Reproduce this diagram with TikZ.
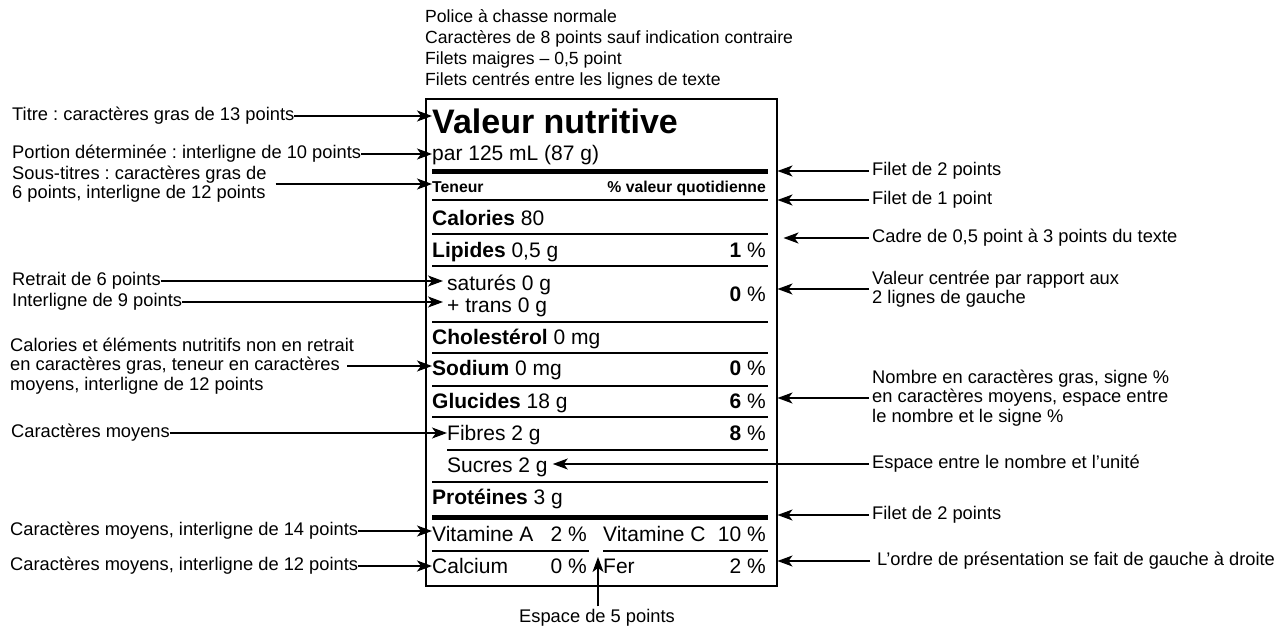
\documentclass[tikz,border=0pt]{standalone}
\usepackage{fontspec}
\setmainfont{Liberation Sans}
\usetikzlibrary{arrows.meta}
\frenchspacing

\begin{document}
\begin{tikzpicture}[x=1pt, y=-1pt, >={Stealth[length=15pt,width=11pt,inset=4pt]},
note/.style={font=\fontsize{18.3}{19.5}\selectfont, align=left, inner sep=0, anchor=west},
ligne/.style={font=\fontsize{21}{25}\selectfont, inner sep=0, anchor=base west},
valeur/.style={font=\fontsize{21}{25}\selectfont, inner sep=0, anchor=base east},
filet/.style={line width=1.2pt}, fleche/.style={->, line width=1.2pt}]
\useasboundingbox (0,0) rectangle (1280,626);

\node[note, font=\fontsize{17.6}{21}\selectfont] (consignes) at (425,49) {Police à chasse normale\\Caractères de 8 points sauf indication contraire\\Filets maigres – 0,5 point\\Filets centrés entre les lignes de texte};

% le tableau
\node[draw, line width=1.5pt, minimum width=351pt, minimum height=487pt, inner sep=0, anchor=north west] (cadre) at (425,98) {};
\node[ligne, font=\bfseries\fontsize{34}{40}\selectfont] (titre) at (432,133) {Valeur nutritive};
\node[ligne] (portion) at (432,160) {par 125 mL (87 g)};
\node[ligne, font=\bfseries\fontsize{15.75}{18}\selectfont] (teneur) at (432,192) {Teneur};
\node[valeur, font=\bfseries\fontsize{15.75}{18}\selectfont] (vq) at (766,192) {\% valeur quotidienne};
\node[ligne] (calories) at (432,225) {\textbf{Calories} 80};
\node[ligne] (lipides) at (432,257) {\textbf{Lipides} 0,5 g};
\node[valeur] (pLipides) at (766,257) {\textbf{1} \%};
\node[ligne] (satures) at (447,290) {saturés 0 g};
\node[ligne] (trans) at (447,312) {+ trans 0 g};
\node[valeur] (pSatures) at (766,301) {\textbf{0} \%};
\node[ligne] (cholesterol) at (432,344) {\textbf{Cholestérol} 0 mg};
\node[ligne] (sodium) at (432,375) {\textbf{Sodium} 0 mg};
\node[valeur] (pSodium) at (766,375) {\textbf{0} \%};
\node[ligne] (glucides) at (432,408) {\textbf{Glucides} 18 g};
\node[valeur] (pGlucides) at (766,408) {\textbf{6} \%};
\node[ligne] (fibres) at (447,440) {Fibres 2 g};
\node[valeur] (pFibres) at (766,440) {\textbf{8} \%};
\node[ligne] (sucres) at (447,472) {Sucres 2 g};
\node[ligne] (proteines) at (432,504) {\textbf{Protéines} 3 g};
\node[ligne] (vitA) at (432,541) {Vitamine A};
\node[valeur] (pVitA) at (587,541) {2 \%};
\node[ligne] (vitC) at (603,541) {Vitamine C};
\node[valeur] (pVitC) at (766,541) {10 \%};
\node[ligne] (calcium) at (432,573) {Calcium};
\node[valeur] (pCalcium) at (587,573) {0 \%};
\node[ligne] (fer) at (603,573) {Fer};
\node[valeur] (pFer) at (766,573) {2 \%};

\draw[line width=5pt] (432,171) -- (768,171);
\draw[line width=2.5pt] (432,200) -- (768,200);
\foreach \y in {234,266,322,353,386,417,482}
    \draw[filet] (432,\y) -- (768,\y);
\draw[filet] (447,450) -- (768,450);
\draw[line width=5pt] (432,517) -- (768,517);
\draw[filet] (432,551) -- (589,551) (603,551) -- (768,551);

% notes de gauche
\node[note] (nTitre) at (12,116) {Titre : caractères gras de 13 points};
\node[note] (nPortion) at (12,154) {Portion déterminée : interligne de 10 points};
\node[note] (nSous) at (12,184) {Sous-titres : caractères gras de\\6 points, interligne de 12 points};
\node[note] (nRetrait) at (12,281) {Retrait de 6 points};
\node[note] (nInterligne) at (12,302) {Interligne de 9 points};
\node[note] (nCalories) at (10,366) {Calories et éléments nutritifs non en retrait\\en caractères gras, teneur en caractères\\moyens, interligne de 12 points};
\node[note] (nMoyens) at (11,433) {Caractères moyens};
\node[note] (nVitamines) at (10,531) {Caractères moyens, interligne de 14 points};
\node[note] (nMineraux) at (10,566) {Caractères moyens, interligne de 12 points};

\draw[fleche] (nTitre.east) -- (nTitre.east -| titre.west);
\draw[fleche] (nPortion.east) -- (nPortion.east -| portion.west);
\draw[fleche] ([xshift=9pt]nSous.east) -- (nSous.east -| teneur.west);
\draw[fleche] (nRetrait.east) -- ([xshift=-4pt]nRetrait.east -| satures.west);
\draw[fleche] (nInterligne.east) -- ([xshift=-4pt]nInterligne.east -| trans.west);
\draw[fleche] ([xshift=-7pt]nCalories.east) -- (nCalories.east -| sodium.west);
\draw[fleche] (nMoyens.east) -- (nMoyens.east -| fibres.west);
\draw[fleche] (nVitamines.east) -- (nVitamines.east -| vitA.west);
\draw[fleche] (nMineraux.east) -- (nMineraux.east -| calcium.west);

% notes de droite
\node[note] (nFilet2) at (872,171) {Filet de 2 points};
\node[note] (nFilet1) at (872,200) {Filet de 1 point};
\node[note] (nCadre) at (872,238) {Cadre de 0,5 point à 3 points du texte};
\node[note] (nCentre) at (872,289) {Valeur centrée par rapport aux\\2 lignes de gauche};
\node[note] (nNombre) at (872,398) {Nombre en caractères gras, signe \%\\en caractères moyens, espace entre\\le nombre et le signe \%};
\node[note] (nUnite) at (872,464) {Espace entre le nombre et l’unité};
\node[note] (nFilet2b) at (872,515) {Filet de 2 points};
\node[note] (nOrdre) at (877,561) {L’ordre de présentation se fait de gauche à droite};

\draw[fleche] ([xshift=-3pt]nFilet2.west) -- (nFilet2.west -| cadre.east);
\draw[fleche] ([xshift=-3pt]nFilet1.west) -- (nFilet1.west -| cadre.east);
\draw[fleche] ([xshift=-3pt]nCadre.west) -- ([xshift=6pt]nCadre.west -| cadre.east);
\draw[fleche] ([xshift=-3pt]nCentre.west) -- (nCentre.west -| cadre.east);
\draw[fleche] ([xshift=-3pt]nNombre.west) -- (nNombre.west -| cadre.east);
\draw[fleche] ([xshift=-3pt]nUnite.west) -- ([xshift=5pt]nUnite.west -| sucres.east);
\draw[fleche] ([xshift=-3pt]nFilet2b.west) -- (nFilet2b.west -| cadre.east);
\draw[fleche] ([xshift=-7pt]nOrdre.west) -- (nOrdre.west -| cadre.east);

\node[note, anchor=center] (nEspace) at (597,618) {Espace de 5 points};
\coordinate (espace) at (598,557);
\draw[fleche, shorten <=3pt] (nEspace.north -| espace) -- (espace);
\end{tikzpicture}
\end{document}
